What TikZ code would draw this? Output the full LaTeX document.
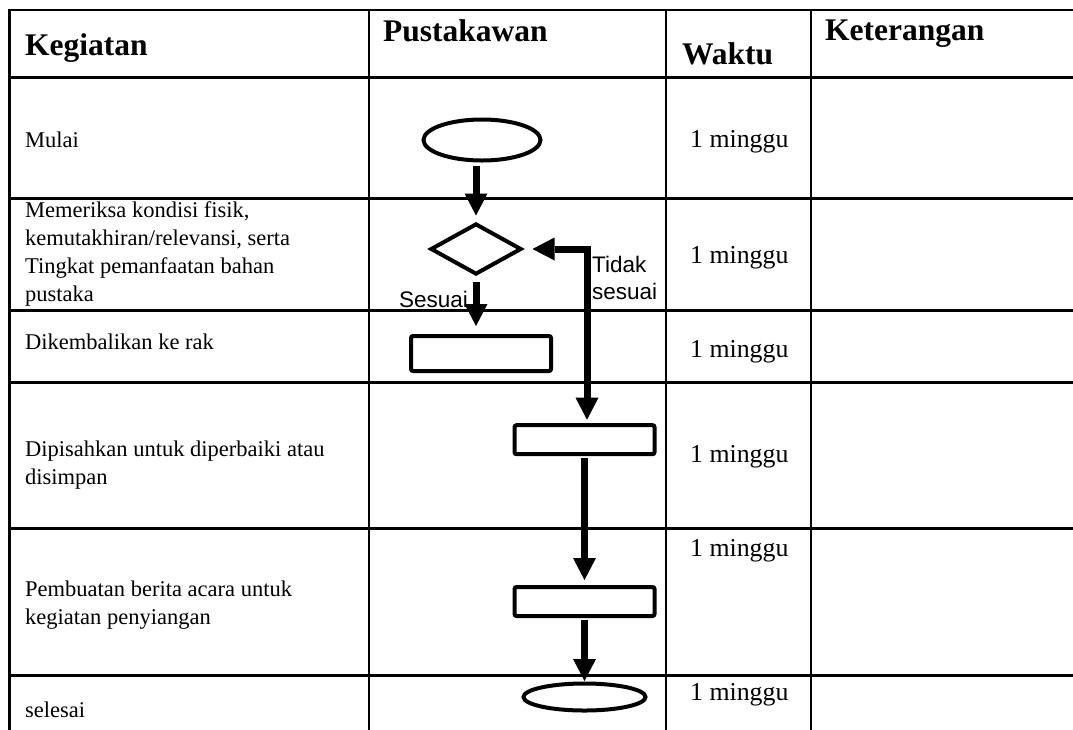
\documentclass[tikz,border=0pt]{standalone}
\usepackage{fontspec}
\setmainfont{Liberation Serif}
\newfontfamily\arialfont{Liberation Sans}
\usetikzlibrary{arrows.meta, shapes.geometric, calc}

\tikzset{
  tabline/.style={line width=2.7pt, line cap=rect},
  head/.style={font=\fontsize{31.5}{36}\selectfont\bfseries, inner sep=0pt, anchor=base west},
  cell/.style={font=\fontsize{22.5}{28}\selectfont, inner sep=0pt, align=left, anchor=base west},
  waktu/.style={font=\fontsize{25.8}{30}\selectfont, inner sep=0pt, anchor=base west},
  lbl/.style={font=\arialfont\fontsize{22.5}{26.5}\selectfont, inner sep=0pt, align=left},
  terminal/.style={draw, ellipse, line width=4pt, inner sep=0pt},
  proses/.style={draw, rectangle, rounded corners=2pt, line width=4pt,
    minimum width=140pt, minimum height=29pt, inner sep=0pt},
  keputusan/.style={draw, diamond, line width=4pt, minimum width=91pt,
    minimum height=51pt, inner sep=0pt},
  alur/.style={line width=7pt, -{Triangle[width=23pt,length=22pt,line width=0pt]}}
}

\begin{document}
\begin{tikzpicture}[x=1pt, y=-1pt]
  \useasboundingbox (0,0) rectangle (1073,729);

  \foreach \y in {10,77.7,198.3,310.7,382.7,528.3,675.5}
    \draw[tabline] (9.3,\y) -- (1073,\y);
  \foreach \x in {9.3,369,666,811}
    \draw[tabline] (\x,10) -- (\x,735);

  \node[head] (hKegiatan) at (25,55) {Kegiatan};
  \node[head] (hPustakawan) at (383,41) {Pustakawan};
  \node[head] (hWaktu) at (682,64) {Waktu};
  \node[head] (hKeterangan) at (825,40) {Keterangan};

  \node[cell] (tMulai) at (25,147) {Mulai};
  \node[cell, anchor=north west] (tCek) at (25,201)
    {Memeriksa kondisi fisik,\\kemutakhiran/relevansi, serta\\Tingkat pemanfaatan bahan\\pustaka};
  \node[cell] (tKembali) at (25,349) {Dikembalikan ke rak};
  \node[cell, anchor=north west] (tPisah) at (25,441)
    {Dipisahkan untuk diperbaiki atau\\disimpan};
  \node[cell, anchor=north west] (tBerita) at (25,580.5)
    {Pembuatan berita acara untuk\\kegiatan penyiangan};
  \node[cell] (tSelesai) at (25,717) {selesai};

  \node[waktu] (w1) at (690,147) {1 minggu};
  \node[waktu] (w2) at (690,263) {1 minggu};
  \node[waktu] (w3) at (690,357) {1 minggu};
  \node[waktu] (w4) at (690,462) {1 minggu};
  \node[waktu] (w5) at (690,556) {1 minggu};
  \node[waktu] (w6) at (690,700) {1 minggu};

  \node[terminal, minimum width=117pt, minimum height=41pt] (mulai) at (482,140) {};
  \node[keputusan] (cek) at (476,249) {};
  \node[proses, minimum height=35pt] (kembali) at (481,353.5) {};
  \node[proses] (pisah) at (584.5,439.7) {};
  \node[proses] (berita) at (584.5,601.5) {};
  \node[terminal, minimum width=122pt, minimum height=27pt] (selesai) at (584.5,697) {};

  \draw[alur, shorten <=3pt, shorten >=6pt] (mulai.south -| cek.north) -- (cek.north);
  \draw[alur, shorten <=5pt, shorten >=8pt] (cek.south) -- (cek.south |- kembali.north);
  \draw[alur, {Triangle[width=23pt,length=22pt,line width=0pt]}-{Triangle[width=23pt,length=22pt,line width=0pt]},
    shorten <=9pt, shorten >=3.5pt] (cek.east) -| ([xshift=2.5pt]pisah.north);
  \draw[alur, shorten <=2pt, shorten >=5pt] (pisah.south) -- (berita.north);
  \draw[alur, shorten <=2pt, shorten >=0.5pt] (berita.south) -- (selesai.north);

  \node[lbl, anchor=base west] (lblSesuai) at (399,307) {Sesuai};
  \node[lbl, anchor=north west] (lblTidak) at (592,256) {Tidak\\sesuai};
\end{tikzpicture}
\end{document}
